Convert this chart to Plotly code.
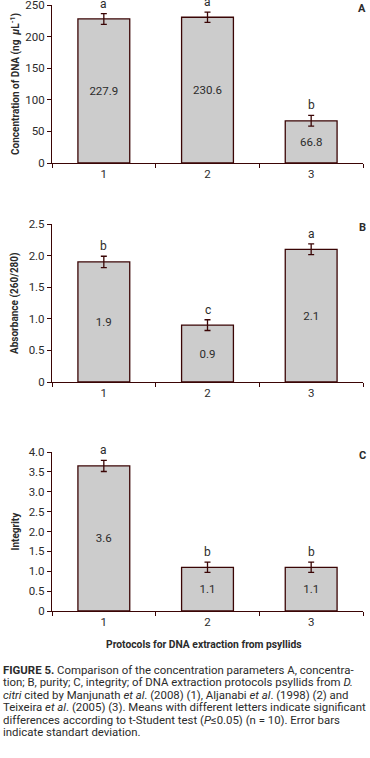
import plotly.graph_objects as go

# ---------------- data ----------------
categories = ["1", "2", "3"]

conc_values = [227.9, 230.6, 66.8]
conc_sd = [8.5, 8.0, 8.5]
conc_labels = ["227.9", "230.6", "66.8"]
conc_letters = ["a", "a", "b"]

abs_values = [1.9, 0.9, 2.1]
abs_sd = [0.09, 0.085, 0.085]
abs_labels = ["1.9", "0.9", "2.1"]
abs_letters = ["b", "c", "a"]

integ_values = [3.65, 1.1, 1.1]
integ_sd = [0.14, 0.13, 0.13]
integ_labels = ["3.6", "1.1", "1.1"]
integ_letters = ["a", "b", "b"]

conc_ticks = [0, 50, 100, 150, 200, 250]
conc_ticktext = ["0", "50", "100", "150", "200", "250"]
abs_ticks = [0, 0.5, 1.0, 1.5, 2.0, 2.5]
abs_ticktext = ["0", "0.5", "1.0", "1.5", "2.0", "2.5"]
integ_ticks = [0, 0.5, 1.0, 1.5, 2.0, 2.5, 3.0, 3.5, 4.0]
integ_ticktext = ["0", "0.5", "1.0", "1.5", "2.0", "2.5", "3.0", "3.5", "4.0"]

caption_lines = [
    "<b>FIGURE 5.</b> Comparison of the concentration parameters A, concentra-",
    "tion; B, purity; C, integrity; of DNA extraction protocols psyllids from <i>D.</i>",
    "<i>citri</i> cited by Manjunath <i>et al</i>. (2008) (1), Aljanabi <i>et al</i>. (1998) (2) and",
    "Teixeira <i>et al</i>. (2005) (3). Means with different letters indicate significant",
    "differences according to t-Student test (<i>P</i>≤0.05) (n = 10). Error bars",
    "indicate standart deviation.",
]

# ---------------- style ----------------
W, H = 370, 758
FONT = "Roboto, Liberation Sans, sans-serif"
LINE = "#3a0505"
TEXT = "#2b2b2b"
FILL = "#cccccc"


def px_y(p):
    return 1 - p / H


def px_x(p):
    return p / W


panels = [
    dict(vals=conc_values, sd=conc_sd, labels=conc_labels, letters=conc_letters,
         ticks=conc_ticks, ticktext=conc_ticktext, rng=[0, 250],
         top=5, bottom=163, tag="A",
         title="Concentration of DNA (ng  <i>µ</i>L<sup>-1</sup>)"),
    dict(vals=abs_values, sd=abs_sd, labels=abs_labels, letters=abs_letters,
         ticks=abs_ticks, ticktext=abs_ticktext, rng=[0, 2.5],
         top=224, bottom=382, tag="B", title="Absorbance (260/280)"),
    dict(vals=integ_values, sd=integ_sd, labels=integ_labels, letters=integ_letters,
         ticks=integ_ticks, ticktext=integ_ticktext, rng=[0, 4.0],
         top=452, bottom=611, tag="C", title="Integrity"),
]

fig = go.Figure()
annotations = []
layout = {}

for i, p in enumerate(panels):
    n = "" if i == 0 else str(i + 1)
    xa, ya = "x" + n, "y" + n
    fig.add_trace(go.Bar(
        x=categories, y=p["vals"], width=0.5,
        marker=dict(color=FILL, line=dict(color=LINE, width=1.3)),
        error_y=dict(type="data", array=p["sd"], color=LINE, thickness=1.3, width=3),
        text=p["labels"], textposition="inside", insidetextanchor="middle",
        textangle=0, textfont=dict(family=FONT, size=11.5, color=TEXT),
        xaxis=xa, yaxis=ya, showlegend=False, hoverinfo="skip",
    ))
    # significance letters just above the error bars (x = category index)
    for j, (v, s, letter) in enumerate(zip(p["vals"], p["sd"], p["letters"])):
        annotations.append(dict(
            text=letter, xref=xa, yref=ya, x=j, y=v + s,
            xanchor="center", yanchor="bottom", yshift=1, showarrow=False,
            font=dict(family=FONT, size=12, color=TEXT),
        ))
    layout["xaxis" + n] = dict(
        domain=[px_x(52), px_x(363)], anchor=ya, type="category", automargin=False,
        range=[-0.5, 2.5], tickson="boundaries", ticks="outside", ticklen=4,
        tickcolor=LINE, tickwidth=1.2, showline=True, linecolor=LINE, linewidth=1.2,
        showgrid=False, zeroline=False, ticklabeloverflow="allow",
        tickfont=dict(family=FONT, size=11.5, color=TEXT),
    )
    layout["yaxis" + n] = dict(
        domain=[px_y(p["bottom"]), px_y(p["top"])], anchor=xa, automargin=False,
        range=p["rng"], tickvals=p["ticks"], ticktext=p["ticktext"],
        ticks="outside", ticklen=4, tickcolor=LINE, tickwidth=1.2,
        showline=True, linecolor=LINE, linewidth=1.2, showgrid=False, zeroline=False,
        ticklabeloverflow="allow",
        tickfont=dict(family=FONT, size=11.5, color=TEXT),
    )
    annotations.append(dict(
        text="<b>" + p["tag"] + "</b>", xref="paper", yref="paper",
        x=px_x(368), y=px_y(p["top"] + 3), xanchor="right", yanchor="middle",
        showarrow=False, font=dict(family=FONT, size=11, color=TEXT),
    ))
    annotations.append(dict(
        text="<b>" + p["title"] + "</b>", xref="paper", yref="paper",
        x=px_x(15), y=px_y((p["top"] + p["bottom"]) / 2), textangle=-90,
        xanchor="center", yanchor="middle", showarrow=False,
        font=dict(family=FONT, size=10, color=TEXT),
    ))

annotations.append(dict(
    text="<b>Protocols for DNA extraction from psyllids</b>", xref="paper", yref="paper",
    x=px_x(204), y=px_y(644), xanchor="center", yanchor="middle", showarrow=False,
    font=dict(family=FONT, size=10.3, color=TEXT),
))

for k, line in enumerate(caption_lines):
    annotations.append(dict(
        text=line, xref="paper", yref="paper",
        x=px_x(1), y=px_y(670 + k * 12.4), xanchor="left", yanchor="middle",
        showarrow=False, align="left", font=dict(family=FONT, size=11.4, color=TEXT),
    ))

fig.update_layout(
    width=W, height=H, margin=dict(l=0, r=0, t=0, b=0, autoexpand=False),
    paper_bgcolor="white", plot_bgcolor="white",
    font=dict(family=FONT, color=TEXT),
    annotations=annotations, bargap=0.5,
    **layout,
)

# remove the browser's default 8px body margin so the figure fills the window
fig.write_html("out.html", config={"displayModeBar": False},
               post_script="document.body.style.margin='0';")
